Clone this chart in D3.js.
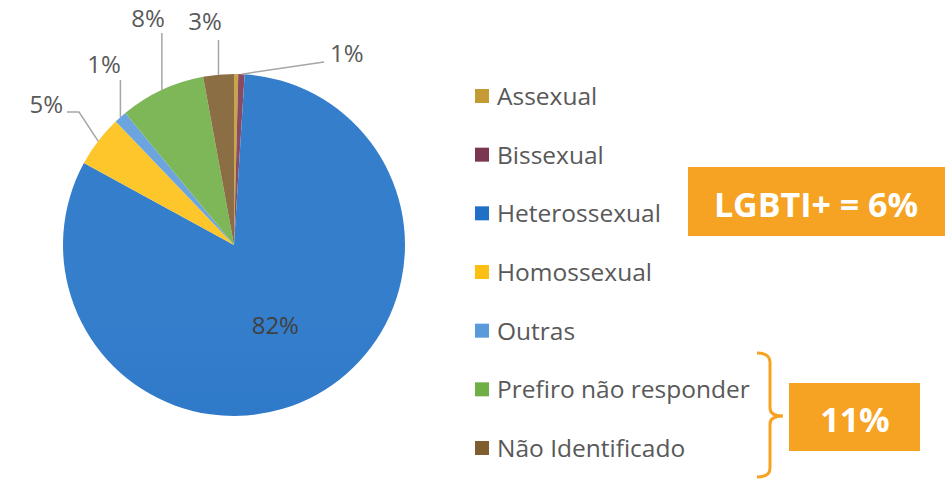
<!DOCTYPE html>
<html>
<head>
<meta charset="utf-8">
<script src="https://cdn.jsdelivr.net/npm/d3@7"></script>
<style>
  body { margin: 0; background: #fff; }
  text { font-family: "Open Sans", sans-serif; }
</style>
</head>
<body>
<div id="chart"></div>
<script>
// Data
const categories = ["Assexual", "Bissexual", "Heterossexual", "Homossexual", "Outras", "Prefiro não responder", "Não Identificado"];
const values = [0.4, 0.6, 82.2, 4.9, 1.2, 8.1, 2.9];
const colors = ["#C49A34", "#7B3751", "#1F70C6", "#FDC012", "#5A9ADB", "#6FAF45", "#7E5E2F"];
const lgbtiText = "LGBTI+ = 6%";
const otherText = "11%";

// Set up dimensions
const width = 950, height = 479;
const cx = 234, cy = 245, radius = 171;

const svg = d3.select("#chart")
    .append("svg")
    .attr("width", width)
    .attr("height", height);

// soft vertical shading like the original
const defs = svg.append("defs");
colors.forEach((c, i) => {
    const g = defs.append("linearGradient")
        .attr("id", "grad" + i)
        .attr("gradientUnits", "userSpaceOnUse")
        .attr("x1", 0).attr("y1", cy - radius)
        .attr("x2", 0).attr("y2", cy + radius);
    g.append("stop").attr("offset", "0%").attr("stop-color", d3.interpolateRgb(c, "#fff")(0.1));
    g.append("stop").attr("offset", "100%").attr("stop-color", d3.color(c).darker(0.08));
});

const pie = d3.pie().sort(null).value(d => d)(values);
const arc = d3.arc().innerRadius(0).outerRadius(radius);

const gPie = svg.append("g").attr("transform", `translate(${cx},${cy})`);

gPie.selectAll("path")
    .data(pie)
    .join("path")
    .attr("d", arc)
    .attr("fill", (d, i) => `url(#grad${i})`);

// Label placement (layout only): text anchor point and leader end
const labelLayout = {
    1: { x: 330, y: 62, anchor: "start", bend: [[324, 62]] },
    2: { inside: true },
    3: { x: 63, y: 113, anchor: "end", bend: [[79, 112], [67, 112]] },
    4: { x: 104, y: 73, anchor: "middle", top: 80 },
    5: { x: 148, y: 27, anchor: "middle", top: 33 },
    6: { x: 205, y: 30, anchor: "middle", top: 40 }
};

const edgePoint = (d, r) => {
    const a = (d.startAngle + d.endAngle) / 2;
    return [cx + r * Math.sin(a), cy - r * Math.cos(a)];
};

pie.forEach((d, i) => {
    const lay = labelLayout[i];
    if (!lay) return;
    const label = Math.round(values[i]) + "%";
    if (lay.inside) {
        const c = arc.centroid(d);
        svg.append("text")
            .attr("x", cx + c[0])
            .attr("y", cy + c[1] + 14)
            .attr("text-anchor", "middle")
            .attr("font-size", 24)
            .attr("fill", "#404040")
            .text(label);
        return;
    }
    const p0 = edgePoint(d, radius);
    let pts = [p0];
    if (lay.bend) pts = pts.concat(lay.bend);
    else pts.push([p0[0], lay.top]);
    svg.append("path")
        .attr("d", d3.line()(pts))
        .attr("fill", "none")
        .attr("stroke", "#A6A6A6")
        .attr("stroke-width", 1.5);
    svg.append("text")
        .attr("x", lay.x)
        .attr("y", lay.y)
        .attr("text-anchor", lay.anchor)
        .attr("font-size", 24)
        .attr("fill", "#595959")
        .text(label);
});

// Legend
const legendY = d3.scalePoint().domain(categories).range([96, 448]);
const legend = svg.append("g");
categories.forEach((c, i) => {
    legend.append("rect")
        .attr("x", 475)
        .attr("y", legendY(c) - 7)
        .attr("width", 14)
        .attr("height", 14)
        .attr("fill", colors[i]);
    legend.append("text")
        .attr("x", 497)
        .attr("y", legendY(c) + 9)
        .attr("font-size", 24.5)
        .attr("fill", "#595959")
        .text(c);
});

// Orange callouts
const orange = "#F6A323";
svg.append("rect")
    .attr("x", 688).attr("y", 167)
    .attr("width", 257).attr("height", 69)
    .attr("fill", orange);
svg.append("text")
    .attr("x", 816).attr("y", 217)
    .attr("text-anchor", "middle")
    .attr("font-size", 34)
    .attr("font-weight", "bold")
    .attr("fill", "#fff")
    .text(lgbtiText);

svg.append("rect")
    .attr("x", 789).attr("y", 383)
    .attr("width", 131).attr("height", 68)
    .attr("fill", orange);
svg.append("text")
    .attr("x", 855).attr("y", 432)
    .attr("text-anchor", "middle")
    .attr("font-size", 34)
    .attr("font-weight", "bold")
    .attr("fill", "#fff")
    .text(otherText);

// Curly bracket
svg.append("path")
    .attr("d", "M757,353 Q770,353 770,362 L770,408 Q770,416 783,416 Q770,416 770,424 L770,468 Q770,477 757,477")
    .attr("fill", "none")
    .attr("stroke", orange)
    .attr("stroke-width", 3);
</script>
</body>
</html>
